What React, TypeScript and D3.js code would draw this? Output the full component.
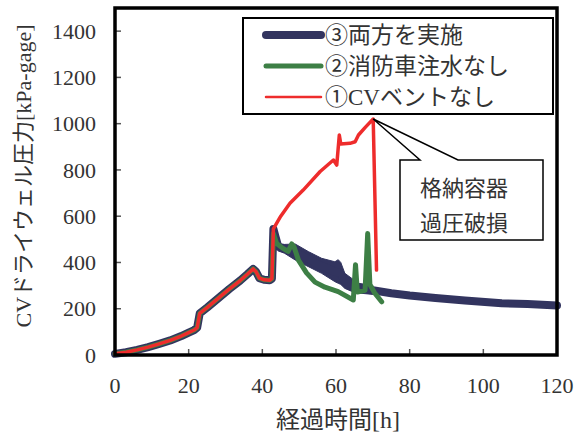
import React from "react";
import * as d3 from "d3";

// axis ticks
const xTicks = [0, 20, 40, 60, 80, 100, 120];
const yTicks = [0, 200, 400, 600, 800, 1000, 1200, 1400];

// common part of all three cases (0 - 42.6 h)
const startTime = [0, 3, 6, 9, 12, 15, 18, 20, 21.5, 22.3, 23, 25, 28, 31, 34, 36, 37.5, 38.3, 39.2, 40.5, 42, 42.6];
const startPressure = [5, 12, 22, 34, 48, 63, 82, 97, 108, 118, 180, 205, 245, 285, 322, 350, 372, 360, 332, 325, 323, 330];

// ③ both measures
const blueTime = [43, 43.6, 44.3, 46, 48.9, 52.5, 56.1, 59.7, 61.1, 62.4, 64.3, 66.1, 70, 75, 80, 87, 95, 105, 112, 120];
const bluePressure = [545, 510, 470, 459, 445, 415, 385, 360, 354, 320, 303, 289, 280, 267, 257, 246, 236, 224, 220, 214];
// noisy band of ③ (upper / lower edge)
const blueBandTime = [44.3, 46, 48.9, 52.5, 56.1, 59.7, 60.6, 61.3, 62.4, 64.3, 66.1, 70];
const blueBandHigh = [483, 478, 480, 447, 418, 403, 412, 400, 353, 331, 310, 300];
const blueBandLow = [450, 440, 411, 382, 353, 317, 310, 305, 288, 275, 268, 262];

// ② no fire-engine water injection
const greenTime = [43, 43.9, 45.5, 47, 48, 48.6, 49.8, 52, 54.3, 57, 60.6, 64.7, 65.3, 65.8, 67.9, 68.6, 69.2, 70.5, 72.4];
const greenPressure = [525, 482, 462, 448, 480, 468, 410, 355, 315, 293, 274, 238, 390, 272, 280, 525, 305, 268, 230];

// ① no CV vent
const redTime = [43, 45, 47.5, 51.1, 55.7, 59.3, 60.2, 60.9, 61.3, 63.8, 65.2, 66.1, 68, 70.1, 71];
const redPressure = [545, 600, 656, 713, 793, 843, 821, 951, 912, 915, 922, 951, 985, 1020, 367];

const legendLabels = ["③両方を実施", "②消防車注水なし", "①CVベントなし"];
const calloutLines = ["格納容器", "過圧破損"];
const xTitle = "経過時間[h]";
const yTitle = "CVドライウェル圧力[kPa-gage]";

const W = 584;
const H = 435;
const left = 115, right = 557, top = 8, bottom = 355;

const BLUE = "#32345f";
const GREEN = "#3d7f45";
const RED = "#ee2c2c";
const FONT = "'Liberation Serif', 'Noto Sans CJK JP', serif";

type Pt = [number, number];
const zip = (t: number[], p: number[]): Pt[] => t.map((d, i) => [d, p[i]]);

export default function App() {
  const x = d3.scaleLinear().domain([0, 120]).range([left, right]);
  const y = d3.scaleLinear().domain([0, 1500]).range([bottom, top]);

  const line = d3.line<Pt>().x(d => x(d[0])).y(d => y(d[1]));
  const area = d3.area<number>()
    .x(d => x(d))
    .y0((d, i) => y(blueBandLow[i]))
    .y1((d, i) => y(blueBandHigh[i]));

  const start = zip(startTime, startPressure);
  const blue = start.concat(zip(blueTime, bluePressure));
  const green = start.concat(zip(greenTime, greenPressure));
  const red = start.concat(zip(redTime, redPressure));

  // callout tip at the peak of ①
  const peakIdx = d3.maxIndex(redPressure);
  const tipX = x(redTime[peakIdx]);
  const tipY = y(redPressure[peakIdx]);
  const bx0 = 400, bx1 = 543, by0 = 160, by1 = 240;
  const callout = `M${bx0},${by0} L420,${by0} L${tipX},${tipY} L458,${by0} L${bx1},${by0} L${bx1},${by1} L${bx0},${by1} Z`;

  const legendColors = [BLUE, GREEN, RED];
  const legendWidths = [8, 5, 2.5];

  return (
    <svg width={W} height={H} style={{ position: "absolute", left: 0, top: 0, background: "#fff" }} fontFamily={FONT}>
      {/* data */}
      <g fill="none" strokeLinejoin="round" strokeLinecap="round">
        <path d={area(blueBandTime) || ""} fill={BLUE} stroke={BLUE} strokeWidth={1} />
        <path d={line(blue) || ""} stroke={BLUE} strokeWidth={8} />
        <path d={line(green) || ""} stroke={GREEN} strokeWidth={5} />
        <path d={line(red) || ""} stroke={RED} strokeWidth={3.5} />
      </g>

      {/* ticks inside the frame */}
      <g stroke="#555" strokeWidth={1.5}>
        {yTicks.slice(1).map(t => (
          <line key={t} x1={left} x2={left + 6} y1={y(t)} y2={y(t)} />
        ))}
        {xTicks.slice(1, -1).map(t => (
          <line key={t} x1={x(t)} x2={x(t)} y1={bottom} y2={bottom - 6} />
        ))}
      </g>
      <rect x={left} y={top} width={right - left} height={bottom - top} fill="none" stroke="#000" strokeWidth={3.5} />

      {/* tick labels */}
      <g fontSize={22} fill="#333">
        {yTicks.map(t => (
          <text key={t} x={96} y={y(t)} dy="0.35em" textAnchor="end">{t}</text>
        ))}
        {xTicks.map(t => (
          <text key={t} x={x(t)} y={393} textAnchor="middle">{t}</text>
        ))}
      </g>

      {/* axis titles */}
      <text x={338} y={428} textAnchor="middle" fontSize={24} fill="#333">{xTitle}</text>
      <text transform="translate(31,176) rotate(-90)" textAnchor="middle" fontSize={22} fill="#333">{yTitle}</text>

      {/* callout */}
      <path d={callout} fill="#fff" stroke="#000" strokeWidth={1.5} />
      {calloutLines.map((s, i) => (
        <text key={s} x={464} y={196 + i * 35} textAnchor="middle" fontSize={22} fill="#333">{s}</text>
      ))}

      {/* legend */}
      <rect x={243} y={18} width={310} height={96} fill="#fff" stroke="#000" strokeWidth={2} />
      {legendLabels.map((s, i) => (
        <g key={s} transform={`translate(0,${35 + i * 31})`}>
          <line x1={266} x2={321} stroke={legendColors[i]} strokeWidth={legendWidths[i]} strokeLinecap="round" />
          <text x={325} dy="0.36em" fontSize={23} fill="#333">{s}</text>
        </g>
      ))}
    </svg>
  );
}
